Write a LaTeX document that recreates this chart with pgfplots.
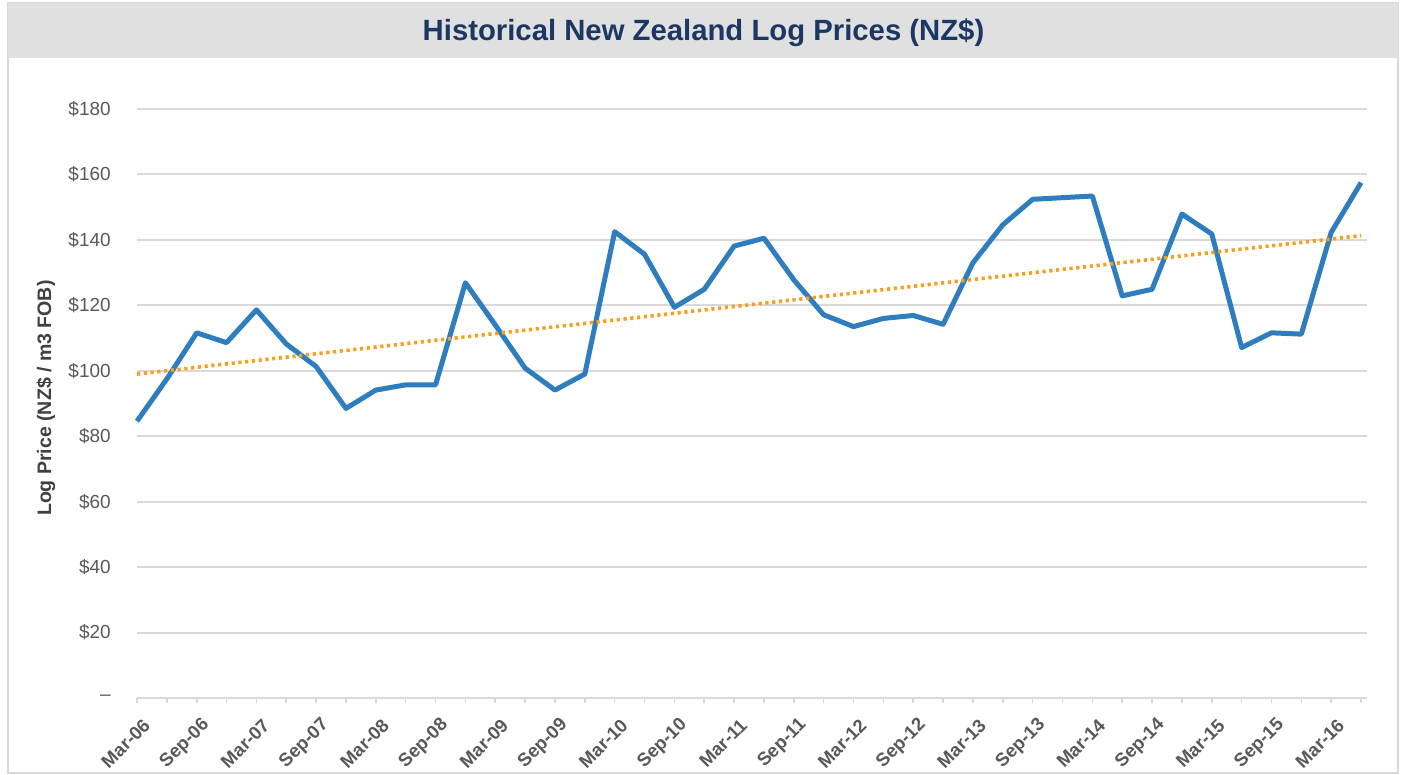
\documentclass[border=0pt]{standalone}
\usepackage{fontspec}
\setmainfont{Liberation Sans}
\usepackage{pgfplots}
\pgfplotsset{compat=1.18}
\definecolor{titlebg}{HTML}{E0E0E0}
\definecolor{titlefg}{HTML}{1B3764}
\definecolor{gridc}{HTML}{D9D9D9}
\definecolor{blueline}{HTML}{2E7DBE}
\definecolor{orangeline}{HTML}{F5A01E}
\definecolor{ticktext}{HTML}{595959}
\definecolor{labc}{HTML}{404040}
\begin{document}
\begin{tikzpicture}[x=1bp,y=1bp]
\useasboundingbox (0,0) rectangle (703,387);
\fill[white] (0,0) rectangle (703,387);
\draw[gridc, line width=0.8bp] (4,0.5) rectangle (699,385.5);
\fill[titlebg] (4,358) rectangle (699,385.5);
\node[font=\fontsize{14.7}{17}\selectfont\bfseries, text=titlefg] at (351.75,370.5) {Historical New Zealand Log Prices (NZ\$)};
\begin{axis}[
  at={(68.5bp,38bp)}, anchor=south west,
  scale only axis, width=615bp, height=294.5bp,
  xmin=0, xmax=41.2, ymin=0, ymax=180,
  clip=false,
  axis x line*=bottom, axis y line*=left,
  y axis line style={draw=none},
  x axis line style={gridc, line width=1bp, -},
  ymajorgrids, grid style={gridc, line width=1bp},
  xtick={0,2,...,40},
  minor xtick={1,3,...,41},
  xticklabels={Mar-06,Sep-06,Mar-07,Sep-07,Mar-08,Sep-08,Mar-09,Sep-09,Mar-10,Sep-10,Mar-11,Sep-11,Mar-12,Sep-12,Mar-13,Sep-13,Mar-14,Sep-14,Mar-15,Sep-15,Mar-16},
  tick align=outside,
  major tick length=2.5bp, minor tick length=2.5bp,
  xtick style={gridc, line width=0.8bp},
  minor tick style={gridc, line width=0.8bp},
  ytick={0,20,...,180},
  yticklabels={--,\$20,\$40,\$60,\$80,\$100,\$120,\$140,\$160,\$180},
  ytick style={draw=none},
  yticklabel style={font=\fontsize{9.5}{11}\selectfont, text=ticktext, anchor=east, inner sep=0pt, xshift=-10.5bp},
  xticklabel style={font=\fontsize{9.3}{11}\selectfont\bfseries, text=ticktext, xshift=5bp, yshift=-9.5bp, rotate=45, anchor=east, inner sep=0pt},
]
\addplot[blueline, line width=2.5bp, line join=round] coordinates {
(0,84.6) (1,97.5) (2,111.6) (3,108.6) (4,118.6) (5,108.2) (6,101.3) (7,88.5)
(8,94.1) (9,95.7) (10,95.7) (11,126.9) (12,114.0) (13,100.8) (14,94.1) (15,99.0)
(16,142.5) (17,135.6) (18,119.4) (19,124.9) (20,138.1) (21,140.5) (22,127.8) (23,117.1)
(24,113.5) (25,116.0) (26,116.9) (27,114.2) (28,133.0) (29,144.6) (30,152.4) (31,152.9)
(32,153.4) (33,122.9) (34,124.9) (35,147.9) (36,141.8) (37,107.1) (38,111.6) (39,111.2)
(40,142.3) (41,157.5)
};
\addplot[orangeline, line width=1.8bp, dash pattern=on 1.6bp off 1.8bp] coordinates {(0,99.0) (41,141.3)};
\node[rotate=90, font=\fontsize{9.8}{12}\selectfont\bfseries, text=labc] at (axis description cs:-0.074,0.509) {Log Price (NZ\$ / m3 FOB)};
\end{axis}
\end{tikzpicture}
\end{document}
